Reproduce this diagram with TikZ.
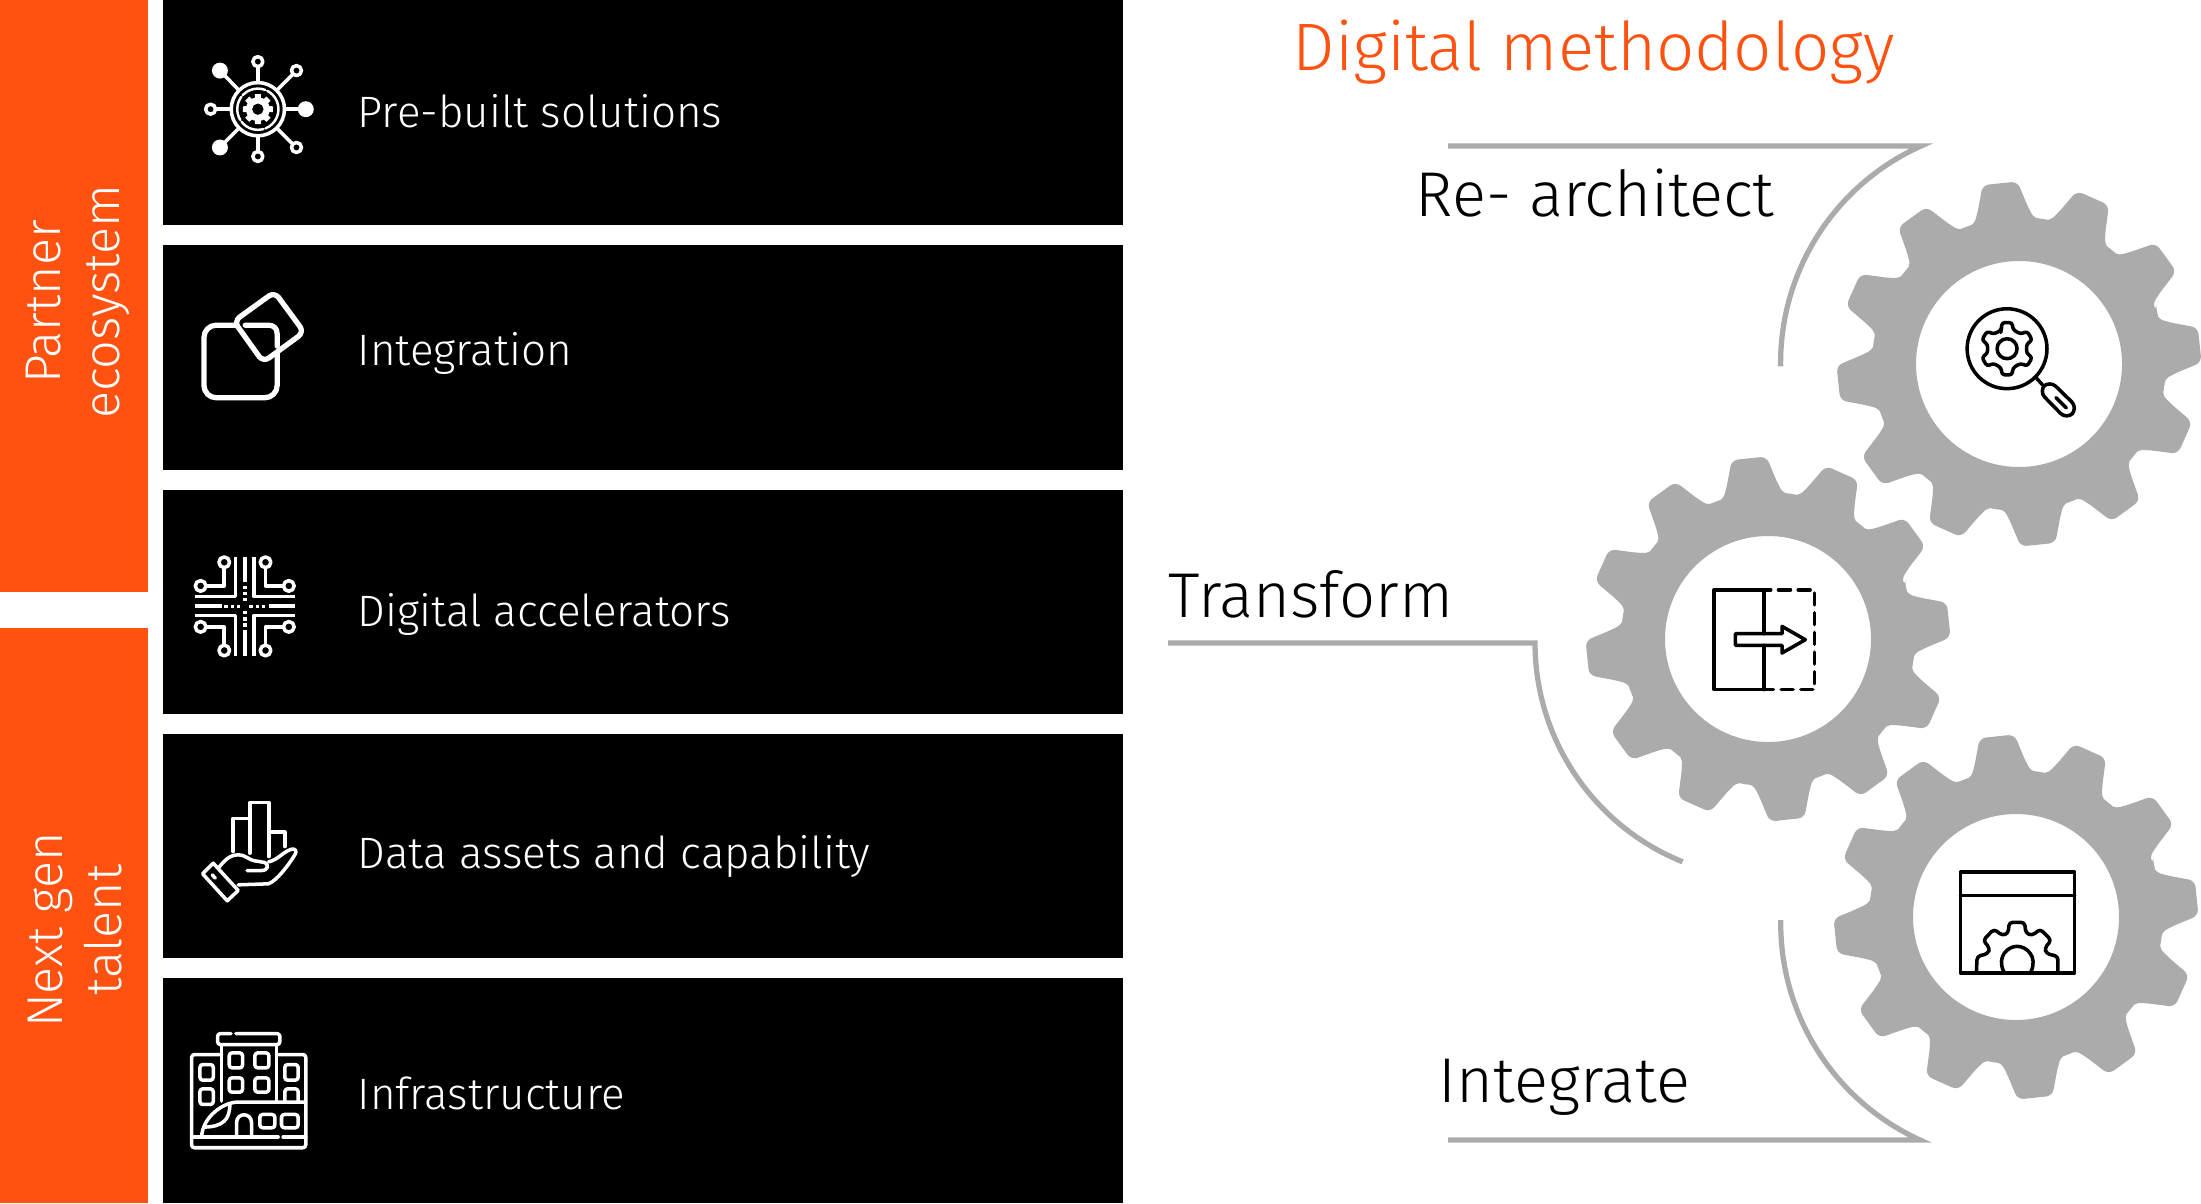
\documentclass[tikz,border=0pt]{standalone}
\usepackage{fontspec}
\setmainfont{Fira Sans Light}
\usepackage{tikz}
\usetikzlibrary{calc}

\definecolor{brandorange}{HTML}{FF5210}
\definecolor{geargray}{HTML}{ABABAB}

\tikzset{
    sidebar/.style={fill=brandorange},
    rowbar/.style={fill=black},
    iconwhite/.style={draw=white, line width=1pt, line cap=round, line join=round},
    iconblack/.style={draw=black, line width=1pt, line cap=round, line join=round},
    guide/.style={draw=geargray, line width=1.5pt},
    cropscale/.style={x=0.003333cm, y=-0.003333cm},
    rowlabel/.style={anchor=base west, inner sep=0pt, text=white, font=\fontsize{12.5}{14}\selectfont},
    sidelabel/.style={rotate=90, align=center, text=white, font=\fontsize{14.3}{17}\selectfont},
    steplabel/.style={anchor=base west, inner sep=0pt, text=black, font=\fontsize{18}{20}\selectfont}
}

\begin{document}
\begin{tikzpicture}[x=0.01cm, y=-0.01cm]
    \useasboundingbox (0,0) rectangle (2201,1203);

    % left bars
    \fill[sidebar] (0,0) rectangle (148,592);
    \fill[sidebar] (0,628) rectangle (148,1203);
    \node[sidelabel] (partner) at (78,302) {Partner\\ecosystem};
    \node[sidelabel] (nextgen) at (75,930) {Next gen\\talent};

    \foreach \ytop/\ybot in {0/225, 245/470, 490/714, 734/958, 978/1203} {
        \fill[rowbar] (163,\ytop) rectangle (1123,\ybot);
    }
    \node[rowlabel] (prebuilt) at (357,127) {Pre-built solutions};
    \node[rowlabel] (integration) at (357,365) {Integration};
    \node[rowlabel] (accel) at (357,626) {Digital accelerators};
    \node[rowlabel] (assets) at (357,868) {Data assets and capability};
    \node[rowlabel] (infra) at (357,1109) {Infrastructure};

    % network icon
    \begin{scope}[shift={(170,30)}, cropscale]
        \draw[iconwhite] (264,238) circle (80);
        \draw[iconwhite, line width=0.7pt, dash pattern=on 7pt off 0.6pt] (264,238) circle (62);
        \fill[white] (264,238) circle (36);
        \foreach \a in {0,45,...,315} {
            \fill[white] ($(264,238)+(\a-11:46)$) -- ($(264,238)+(\a+11:46)$) -- ($(264,238)+(\a+16:33)$) -- ($(264,238)+(\a-16:33)$) -- cycle;
        }
        \fill[black] (264,238) circle (17);
        \draw[iconwhite] (264,158) -- (264,112) (264,318) -- (264,366);
        \draw[iconwhite] (184,238) -- (136,238) (344,238) -- (395,238);
        \draw[iconwhite] (207,181) -- (160,132) (321,181) -- (368,134);
        \draw[iconwhite] (207,295) -- (160,342) (321,295) -- (368,342);
        \fill[white] (150,122) circle (24) (408,238) circle (24) (150,353) circle (24);
        \draw[iconwhite] (264,95) circle (15) (380,122) circle (15) (122,238) circle (15);
        \draw[iconwhite] (380,353) circle (15) (264,380) circle (15);
    \end{scope}

    % integration icon
    \begin{scope}[shift={(170,30)}, cropscale]
        \draw[iconwhite, line width=1.5pt, rounded corners=3.5pt] (102,887) rectangle (322,1105);
        \fill[black, rounded corners=2pt] (314,785) -- (405,908) -- (280,1000) -- (190,875) -- cycle;
        \draw[iconwhite, line width=1.5pt] (226,887) -- (296,887) .. controls (312,887) and (322,897) .. (322,913) -- (322,950);
        \draw[iconwhite, line width=1.5pt, rounded corners=2pt] (314,787) -- (403,908) -- (280,998) -- (192,875) -- cycle;
    \end{scope}

    % circuit icon
    \begin{scope}[shift={(170,530)}, cropscale]
        \draw[iconwhite, line cap=butt] (197,80) -- (197,200) -- (75,200);
        \draw[iconwhite, line cap=butt] (253,80) -- (253,200) -- (377,200);
        \draw[iconwhite, line cap=butt] (197,380) -- (197,257) -- (75,257);
        \draw[iconwhite, line cap=butt] (253,380) -- (253,257) -- (377,257);
        \draw[iconwhite, line cap=butt] (225,80) -- (225,155) (225,300) -- (225,380);
        \draw[iconwhite, line cap=butt] (75,229) -- (155,229) (296,229) -- (377,229);
        \foreach \p in {172,190,208,248,267,285} {
            \fill[white] (225-5,\p-5) rectangle (225+5,\p+5);
        }
        \foreach \p in {168,187,206,243,262,281} {
            \fill[white] (\p-5,229-5) rectangle (\p+5,229+5);
        }
        \draw[iconwhite] (163,115) -- (163,168) -- (110,168);
        \draw[iconwhite] (287,115) -- (287,168) -- (340,168);
        \draw[iconwhite] (110,291) -- (163,291) -- (163,344);
        \draw[iconwhite] (340,291) -- (287,291) -- (287,344);
        \draw[iconwhite] (163,97) circle (16) (287,97) circle (16) (92,168) circle (16) (357,168) circle (16);
        \draw[iconwhite] (92,291) circle (16) (357,291) circle (16) (163,362) circle (16) (287,362) circle (16);
    \end{scope}

    % data icon
    \begin{scope}[shift={(170,770)}, cropscale]
        \draw[iconwhite] (240,250) -- (240,98) -- (297,98) -- (297,260);
        \draw[iconwhite] (190,245) -- (190,145) -- (240,145);
        \draw[iconwhite] (297,187) -- (345,187) -- (345,230);
        \draw[iconwhite] (98,312) -- (130,280) -- (205,362) -- (172,393) -- cycle;
        \draw[iconwhite] (127,315) -- (136,325);
        \draw[iconwhite] (145,295) .. controls (165,270) and (180,255) .. (205,255) .. controls (230,255) and (235,272) .. (262,274) -- (285,278) .. controls (298,285) and (295,302) .. (275,302) -- (232,302);
        \draw[iconwhite] (296,276) .. controls (325,270) and (340,245) .. (365,238) .. controls (378,235) and (382,245) .. (375,255) .. controls (360,280) and (320,335) .. (295,342) -- (205,345);
    \end{scope}

    % building icon
    \begin{scope}[shift={(170,770)}, cropscale, rounded corners=0.8pt]
        \draw[iconwhite] (183,792) -- (143,792) -- (143,825) -- (330,825) -- (330,792) -- (198,792);
        \draw[iconwhite, rounded corners=0pt] (155,825) -- (155,995) (320,825) -- (320,998);
        \draw[iconwhite] (155,855) -- (65,855) -- (65,1135) -- (408,1135) -- (408,855) -- (320,855);
        \draw[iconwhite, rounded corners=0pt] (65,1103) -- (325,1103) (340,1103) -- (408,1103);
        \draw[iconwhite] (178,850) rectangle (218,895) (255,850) rectangle (297,895);
        \draw[iconwhite] (178,925) rectangle (218,968) (255,925) rectangle (297,968);
        \draw[iconwhite] (90,885) rectangle (130,932) (90,958) rectangle (130,1005);
        \draw[iconwhite] (345,885) rectangle (385,932);
        \draw[iconwhite] (345,995) -- (345,958) -- (385,958) -- (385,995);
        \draw[iconwhite, rounded corners=0pt] (408,998) -- (200,998) .. controls (160,1000) and (100,1040) .. (95,1100);
        \draw[iconwhite, rounded corners=0pt] (180,1003) .. controls (180,1050) and (160,1072) .. (102,1073);
        \draw[iconwhite, rounded corners=0pt] (200,1103) -- (200,1060) .. controls (200,1028) and (245,1028) .. (245,1060) -- (245,1103);
        \draw[iconwhite] (270,1035) rectangle (315,1075) (335,1035) rectangle (385,1075);
    \end{scope}

    % gears
    \foreach \cx/\cy in {2019/364, 1768/639, 2016/917} {
        \begin{scope}[shift={(\cx,\cy)}]
            \fill[geargray, even odd rule, rounded corners=1.8pt] (-21:147)
                \foreach \f in {-6,24,...,324} {
                    .. controls (\f-13:147) and (\f-11.5:148) .. (\f-9.5:156)
                    -- (\f-5.5:182.5) -- (\f+5.5:182.5) -- (\f+9.5:156)
                    .. controls (\f+11.5:148) and (\f+13:147) .. (\f+15:147)
                } -- cycle (0,0) circle (103);
        \end{scope}
    }

    % search icon
    \begin{scope}[shift={(1820,170)}, cropscale]
        \draw[iconblack] (562,537) circle (120);
        \draw[iconblack] (562,537) circle (30);
        \begin{scope}[shift={(562,537)}]
            \draw[iconblack, rounded corners=0.8pt] (-108:58)
                \foreach \f in {-90,-30,...,210} {
                    -- (\f-17:60) -- (\f-11:80) -- (\f+11:80) -- (\f+17:60)
                } -- cycle;
        \end{scope}
        \draw[iconblack] (650,625) -- (668,645);
        \draw[iconblack, rounded corners=2.5pt] (657,664) -- (690,632) -- (775,715) -- (741,750) -- cycle;
        \draw[iconblack] (709,684) -- (740,715);
    \end{scope}

    % move icon
    \begin{scope}[shift={(1580,450)}, cropscale]
        \draw[iconblack] (553,420) -- (403,420) -- (403,720) -- (553,720);
        \draw[iconblack] (553,420) -- (553,552) (553,587) -- (553,720);
        \draw[iconblack, dash pattern=on 3.4pt off 2.2pt, dash phase=1.5pt] (553,420) -- (705,420) -- (705,720) -- (553,720);
        \draw[iconblack] (467,552) -- (607,552) -- (607,530) -- (677,570) -- (607,610) -- (607,587) -- (467,587) -- cycle;
    \end{scope}

    % window icon
    \begin{scope}[shift={(1820,730)}, cropscale]
        \draw[iconblack] (422,427) rectangle (765,730);
        \draw[iconblack] (422,497) -- (765,497);
        \draw[iconblack, rounded corners=1pt] (470,726) -- (472,680) -- (505,672) -- (510,655) -- (490,632) -- (523,598) -- (548,618) -- (566,610) -- (568,578) -- (615,578) -- (618,610) -- (637,618) -- (662,598) -- (695,632) -- (675,655) -- (680,672) -- (715,680) -- (715,726);
        \draw[iconblack] (552,726) .. controls (530,680) and (565,650) .. (592,650) .. controls (620,650) and (655,680) .. (634,726);
    \end{scope}

    % titles
    \node[anchor=base west, inner sep=0pt, text=brandorange, font=\fontsize{19.1}{22}\selectfont] (title) at (1292,70) {Digital methodology};
    \node[steplabel] (rearch) at (1415,216) {Re- architect};
    \node[steplabel] (transform) at (1168,617) {Transform};
    \node[steplabel] (integrate) at (1438,1102) {Integrate};

    % guides round the gears
    \coordinate (rearchstart) at (1448,146);
    \coordinate (rearchbend) at (1921,146);
    \coordinate (transtart) at (1168,643);
    \coordinate (tranbend) at (1535,643);
    \coordinate (integstart) at (1448,1140);
    \coordinate (integbend) at (1920,1140);

    \draw[guide] (rearchstart) -- (rearchbend) arc[start angle=245.8, end angle=179.2, radius=238];
    \draw[guide] (transtart) -- (tranbend) arc[start angle=180, end angle=112, radius=236];
    \draw[guide] (integstart) -- (integbend) arc[start angle=114.5, end angle=180.8, radius=238];
\end{tikzpicture}
\end{document}
